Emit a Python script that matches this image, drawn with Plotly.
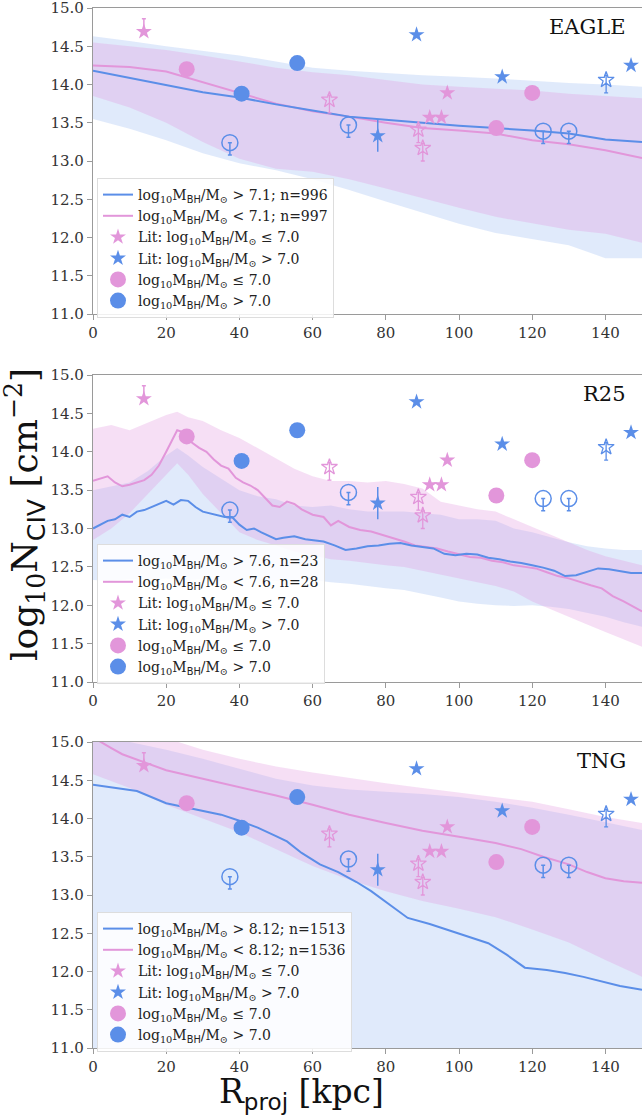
import plotly.graph_objects as go

BLUE = "#5b8ee8"
PINK = "#e296da"
BLUE_FILL = "rgba(100,149,237,0.2)"
PINK_FILL = "rgba(226,150,222,0.3)"
SERIF = "DejaVu Serif"
SANS = "DejaVu Sans"

# ---------------- observational / literature points (same in all panels) -------------
lit_low_x = [92.0, 95.2, 96.8]
lit_low_y = [13.57, 13.57, 13.89]
lit_low_err_x = [13.9]
lit_low_err_y = [14.69]
lit_low_err_up = [0.17]
lit_low_lim_x = [64.6, 88.9, 90.1]
lit_low_lim_y = [13.80, 13.41, 13.17]
lit_high_x = [88.4, 111.8, 147.0]
lit_high_y = [14.65, 14.10, 14.25]
lit_high_err_x = [77.8]
lit_high_err_y = [13.33]
lit_high_err = [0.21]
lit_high_lim_x = [140.2]
lit_high_lim_y = [14.06]
sim_low_x = [25.6, 110.2, 120.0]
sim_low_y = [14.20, 13.43, 13.89]
sim_high_x = [40.6, 55.8]
sim_high_y = [13.88, 14.28]
sim_high_lim_x = [37.4, 69.8, 123.0, 130.0]
sim_high_lim_y = [13.24, 13.47, 13.39, 13.39]

# ---------------- EAGLE ----------------
eagle_x = [0, 10, 20, 30, 40, 50, 60, 70, 80, 90, 100, 110, 120, 130, 140, 150]
eagle_hi_med = [14.18, 14.09, 13.99, 13.90, 13.83, 13.74, 13.66, 13.58, 13.54, 13.50, 13.46, 13.43, 13.40, 13.36, 13.28, 13.25]
eagle_lo_med = [14.25, 14.23, 14.17, 14.03, 13.88, 13.75, 13.65, 13.58, 13.50, 13.43, 13.40, 13.36, 13.27, 13.22, 13.14, 13.04]
eagle_hi_up = [14.63, 14.57, 14.50, 14.44, 14.38, 14.30, 14.22, 14.18, 14.15, 14.12, 14.10, 14.08, 14.05, 14.02, 14.00, 13.97]
eagle_hi_dn = [13.55, 13.42, 13.27, 13.10, 12.97, 12.88, 12.76, 12.62, 12.47, 12.32, 12.18, 12.06, 11.98, 11.90, 11.73, 11.73]
eagle_lo_up = [14.55, 14.50, 14.45, 14.38, 14.30, 14.22, 14.16, 14.12, 14.06, 14.00, 13.97, 13.95, 13.92, 13.88, 13.85, 13.82]
eagle_lo_dn = [13.85, 13.70, 13.50, 13.25, 13.03, 12.90, 12.86, 12.76, 12.64, 12.52, 12.39, 12.27, 12.18, 12.10, 12.05, 11.93]

# ---------------- R25 ----------------
r25_hi_x = [0, 2, 4, 6, 8, 10, 12, 14, 16, 18, 20, 22, 24, 26, 28, 30, 32, 34, 36, 38, 40, 42, 44, 46, 48, 50,
            52, 55, 58, 60, 63, 66, 69, 72, 75, 78, 81, 84, 87, 90, 93, 96, 99, 102, 105, 108, 111, 114, 117,
            120, 123, 126, 129, 132, 135, 138, 141, 144, 147, 150]
r25_hi_med = [13.00, 13.05, 13.10, 13.12, 13.18, 13.15, 13.22, 13.24, 13.28, 13.33, 13.36, 13.31, 13.37, 13.36,
              13.28, 13.22, 13.20, 13.17, 13.15, 13.15, 13.05, 12.98, 13.00, 12.95, 12.90, 12.86, 12.88, 12.90,
              12.86, 12.85, 12.83, 12.78, 12.72, 12.74, 12.77, 12.78, 12.80, 12.81, 12.78, 12.76, 12.74, 12.67,
              12.65, 12.67, 12.66, 12.62, 12.60, 12.57, 12.55, 12.52, 12.49, 12.45, 12.38, 12.39, 12.44, 12.48,
              12.47, 12.44, 12.42, 12.42]
r25_lo_x = [0, 2, 4, 6, 8, 10, 12, 14, 16, 18, 20, 22, 23, 25, 27, 29, 31, 33, 35, 37, 39, 41, 43, 45, 47, 49,
            51, 53, 55, 57, 60, 63, 65, 67, 70, 73, 76, 79, 82, 85, 88, 91, 94, 97, 100, 103, 106, 109, 112, 115,
            118, 121, 124, 127, 130, 133, 136, 139, 142, 145, 148, 150]
r25_lo_med = [13.62, 13.65, 13.68, 13.60, 13.55, 13.57, 13.60, 13.63, 13.70, 13.82, 14.00, 14.20, 14.28, 14.25,
              14.12, 14.05, 14.00, 13.90, 13.82, 13.78, 13.66, 13.60, 13.56, 13.50, 13.40, 13.30, 13.28, 13.35,
              13.32, 13.25, 13.18, 13.15, 13.04, 13.10, 13.02, 12.98, 12.96, 12.92, 12.88, 12.83, 12.78, 12.76,
              12.74, 12.70, 12.66, 12.63, 12.62, 12.58, 12.56, 12.52, 12.50, 12.48, 12.43, 12.38, 12.35, 12.30,
              12.26, 12.22, 12.12, 12.05, 11.97, 11.92]
r25_band_x = [0, 5, 10, 15, 20, 23, 26, 30, 35, 40, 45, 50, 55, 60, 65, 70, 75, 80, 85, 90, 95, 100, 105, 110,
              115, 120, 125, 130, 135, 140, 145, 150]
r25_lo_up = [14.30, 14.35, 14.28, 14.38, 14.48, 14.52, 14.45, 14.40, 14.28, 14.18, 14.05, 13.92, 13.78, 13.68,
             13.62, 13.62, 13.60, 13.62, 13.58, 13.52, 13.35, 13.30, 13.25, 13.22, 13.12, 13.02, 12.92, 12.82,
             12.72, 12.64, 12.58, 12.52]
r25_lo_dn = [12.85, 13.00, 13.20, 13.45, 13.70, 13.85, 13.70, 13.45, 13.20, 12.95, 12.85, 12.78, 12.70, 12.65,
             12.60, 12.58, 12.55, 12.52, 12.50, 12.45, 12.40, 12.35, 12.30, 12.25, 12.18, 12.05, 11.95, 11.85,
             11.75, 11.65, 11.55, 11.46]
r25_hi_up = [13.50, 13.55, 13.60, 13.75, 13.95, 14.05, 13.95, 13.80, 13.65, 13.50, 13.42, 13.38, 13.30, 13.28,
             13.30, 13.25, 13.22, 13.22, 13.22, 13.20, 13.18, 13.12, 13.12, 13.10, 13.00, 12.95, 12.88, 12.82,
             12.77, 12.74, 12.72, 12.72]
r25_hi_dn = [12.33, 12.32, 12.34, 12.33, 12.35, 12.34, 12.33, 12.34, 12.32, 12.33, 12.33, 12.32, 12.33, 12.33,
             12.30, 12.28, 12.25, 12.22, 12.20, 12.15, 12.10, 12.05, 12.02, 12.00, 11.99, 12.00, 11.98, 11.95,
             11.90, 11.85, 11.78, 11.72]

# ---------------- TNG ----------------
tng_hi_x = [0, 5, 12, 20, 25, 30, 35, 40, 45, 50, 53, 57, 62, 67, 72, 76, 81, 86, 92, 97, 103, 108, 113, 118,
            124, 129, 134, 139, 144, 150]
tng_hi_med = [14.44, 14.41, 14.36, 14.20, 14.15, 14.11, 14.05, 13.97, 13.88, 13.77, 13.70, 13.55, 13.40, 13.30,
              13.17, 13.05, 12.88, 12.70, 12.62, 12.54, 12.45, 12.37, 12.22, 12.05, 12.02, 11.98, 11.93, 11.87,
              11.81, 11.76]
tng_lo_x = [0, 2, 5, 8, 12, 20, 30, 40, 50, 60, 70, 80, 90, 100, 110, 117, 123, 130, 135, 140, 145, 150]
tng_lo_med = [15.06, 15.00, 14.92, 14.84, 14.77, 14.63, 14.52, 14.41, 14.30, 14.18, 14.05, 13.94, 13.84, 13.76,
              13.68, 13.60, 13.50, 13.40, 13.30, 13.22, 13.18, 13.16]
tng_band_x = [0, 10, 20, 30, 40, 50, 60, 70, 80, 90, 100, 110, 120, 130, 140, 150]
tng_lo_up = [15.40, 15.20, 15.05, 14.90, 14.78, 14.68, 14.60, 14.53, 14.46, 14.40, 14.34, 14.28, 14.22, 14.12, 14.02, 13.94]
tng_lo_dn = [14.58, 14.40, 14.18, 14.00, 13.82, 13.60, 13.38, 13.20, 13.05, 12.92, 12.82, 12.71, 12.55, 12.38, 12.15, 11.93]
tng_hi_up = [15.10, 15.00, 14.90, 14.78, 14.65, 14.52, 14.43, 14.38, 14.35, 14.32, 14.28, 14.22, 14.14, 14.05, 13.95, 13.85]
tng_hi_dn = [10.80, 10.80, 10.75, 10.70, 10.70, 10.75, 10.80, 10.80, 10.80, 10.80, 10.80, 10.80, 10.80, 10.80, 10.80, 10.80]

panel_names = ["EAGLE", "R25", "TNG"]
hi_labels = ["&gt; 7.1; n=996", "&gt; 7.6, n=23", "&gt; 8.12; n=1513"]
lo_labels = ["&lt; 7.1; n=997", "&lt; 7.6, n=28", "&lt; 8.12; n=1536"]
y_ticks = [11, 11.5, 12, 12.5, 13, 13.5, 14, 14.5, 15]
x_ticks = [0, 20, 40, 60, 80, 100, 120, 140]

MBH = "log<sub>10</sub>M<sub><span style='font-family:DejaVu Sans'>BH</span></sub>/M<sub>⊙</sub>"

panels = [
    dict(bx=eagle_x, hi_up=eagle_hi_up, hi_dn=eagle_hi_dn, lo_up=eagle_lo_up, lo_dn=eagle_lo_dn,
         hx=eagle_x, hm=eagle_hi_med, lx=eagle_x, lm=eagle_lo_med),
    dict(bx=r25_band_x, hi_up=r25_hi_up, hi_dn=r25_hi_dn, lo_up=r25_lo_up, lo_dn=r25_lo_dn,
         hx=r25_hi_x, hm=r25_hi_med, lx=r25_lo_x, lm=r25_lo_med),
    dict(bx=tng_band_x, hi_up=tng_hi_up, hi_dn=tng_hi_dn, lo_up=tng_lo_up, lo_dn=tng_lo_dn,
         hx=tng_hi_x, hm=tng_hi_med, lx=tng_lo_x, lm=tng_lo_med),
]

STAR = 12
fig = go.Figure()

for i, p in enumerate(panels):
    sfx = "" if i == 0 else str(i + 1)
    xa, ya = "x" + sfx, "y" + sfx
    leg = "legend" + sfx
    # bands
    fig.add_trace(go.Scatter(x=p["bx"] + p["bx"][::-1], y=p["hi_up"] + p["hi_dn"][::-1], fill="toself",
                             fillcolor=BLUE_FILL, line=dict(width=0), mode="lines", hoverinfo="skip",
                             showlegend=False, xaxis=xa, yaxis=ya))
    fig.add_trace(go.Scatter(x=p["bx"] + p["bx"][::-1], y=p["lo_up"] + p["lo_dn"][::-1], fill="toself",
                             fillcolor=PINK_FILL, line=dict(width=0), mode="lines", hoverinfo="skip",
                             showlegend=False, xaxis=xa, yaxis=ya))
    # medians
    fig.add_trace(go.Scatter(x=p["lx"], y=p["lm"], mode="lines", line=dict(color=PINK, width=2),
                             name=MBH + " " + lo_labels[i], legend=leg, legendrank=2, xaxis=xa, yaxis=ya))
    fig.add_trace(go.Scatter(x=p["hx"], y=p["hm"], mode="lines", line=dict(color=BLUE, width=2),
                             name=MBH + " " + hi_labels[i], legend=leg, legendrank=1, xaxis=xa, yaxis=ya))
    # literature stars
    fig.add_trace(go.Scatter(x=lit_low_x, y=lit_low_y, mode="markers",
                             marker=dict(symbol="star", size=STAR, color=PINK, line=dict(width=0)),
                             name="Lit: " + MBH + " ≤ 7.0", legend=leg, legendrank=3, xaxis=xa, yaxis=ya))
    fig.add_trace(go.Scatter(x=lit_low_err_x, y=lit_low_err_y, mode="markers",
                             marker=dict(symbol="star", size=STAR, color=PINK, line=dict(width=0)),
                             error_y=dict(type="data", symmetric=False, array=lit_low_err_up, arrayminus=[0],
                                          color=PINK, thickness=1.5, width=2),
                             showlegend=False, xaxis=xa, yaxis=ya))
    fig.add_trace(go.Scatter(x=lit_low_lim_x, y=lit_low_lim_y, mode="markers",
                             marker=dict(symbol="star-open", size=STAR, color=PINK, line=dict(width=1.3)),
                             error_y=dict(type="data", symmetric=False, array=[0.06, 0.06, 0.06],
                                          arrayminus=[0.17, 0.17, 0.17], color=PINK, thickness=1.3, width=2),
                             showlegend=False, xaxis=xa, yaxis=ya))
    fig.add_trace(go.Scatter(x=lit_high_x, y=lit_high_y, mode="markers",
                             marker=dict(symbol="star", size=STAR, color=BLUE, line=dict(width=0)),
                             name="Lit: " + MBH + " &gt; 7.0", legend=leg, legendrank=4, xaxis=xa, yaxis=ya))
    fig.add_trace(go.Scatter(x=lit_high_err_x, y=lit_high_err_y, mode="markers",
                             marker=dict(symbol="star", size=STAR, color=BLUE, line=dict(width=0)),
                             error_y=dict(type="data", array=lit_high_err, color=BLUE, thickness=1.5, width=0),
                             showlegend=False, xaxis=xa, yaxis=ya))
    fig.add_trace(go.Scatter(x=lit_high_lim_x, y=lit_high_lim_y, mode="markers",
                             marker=dict(symbol="star-open", size=STAR, color=BLUE, line=dict(width=1.3)),
                             error_y=dict(type="data", symmetric=False, array=[0.06], arrayminus=[0.17],
                                          color=BLUE, thickness=1.3, width=2),
                             showlegend=False, xaxis=xa, yaxis=ya))
    # this-work circles
    fig.add_trace(go.Scatter(x=sim_low_x, y=sim_low_y, mode="markers",
                             marker=dict(symbol="circle", size=16, color=PINK, line=dict(width=0)),
                             name=MBH + " ≤ 7.0", legend=leg, legendrank=5, xaxis=xa, yaxis=ya))
    fig.add_trace(go.Scatter(x=sim_high_x, y=sim_high_y, mode="markers",
                             marker=dict(symbol="circle", size=16, color=BLUE, line=dict(width=0)),
                             name=MBH + " &gt; 7.0", legend=leg, legendrank=6, xaxis=xa, yaxis=ya))
    fig.add_trace(go.Scatter(x=sim_high_lim_x, y=sim_high_lim_y, mode="markers",
                             marker=dict(symbol="circle-open", size=16, color=BLUE, line=dict(width=1.5)),
                             error_y=dict(type="data", symmetric=False, array=[0, 0, 0, 0],
                                          arrayminus=[0.16, 0.16, 0.16, 0.16], color=BLUE, thickness=1.5, width=2),
                             showlegend=False, xaxis=xa, yaxis=ya))

# geometry (pixels -> paper)
W, H = 642, 1117
ML, MR, MT, MB = 93, 0, 8, 69
PH = H - MT - MB
def py(px):
    return (H - MB - px) / PH
def pxx(px):
    return (px - ML) / (W - ML - MR)

doms = [(py(314), py(8)), (py(682), py(375)), (py(1048), py(742))]
leg_tops = [178, 544, 912]

axis_common = dict(showline=True, linecolor="#9a9a9a", linewidth=1.3, ticks="outside", tickcolor="#9a9a9a",
                   ticklen=5, tickwidth=1.2, showgrid=False, zeroline=False, ticklabeloverflow="allow",
                   tickfont=dict(family=SERIF, size=15, color="#333333"))
layout = dict(width=W, height=H, margin=dict(l=ML, r=MR, t=MT, b=MB), paper_bgcolor="white",
              plot_bgcolor="white", showlegend=True)
annotations = []
for i in range(3):
    sfx = "" if i == 0 else str(i + 1)
    layout["xaxis" + sfx] = dict(axis_common, range=[0, 150], tickvals=x_ticks,
                                 anchor="y" + sfx, mirror=True, domain=[0, 1])
    layout["yaxis" + sfx] = dict(axis_common, range=[11, 15], tickvals=y_ticks,
                                 tickformat=".1f", anchor="x" + sfx, domain=list(doms[i]))
    layout["legend" + sfx] = dict(x=pxx(97), y=py(leg_tops[i]), xanchor="left", yanchor="top",
                                  bgcolor="rgba(255,255,255,0.85)", bordercolor="#dddddd", borderwidth=1,
                                  font=dict(family=SERIF, size=14, color="#222222"), itemsizing="trace",
                                  traceorder="normal", tracegroupgap=0)
    annotations.append(dict(text=panel_names[i], xref="x" + sfx + " domain", yref="y" + sfx + " domain",
                            x=0.975, y=0.985, xanchor="right", yanchor="top", showarrow=False,
                            font=dict(family=SERIF, size=21, color="#111111")))

annotations.append(dict(text="log<sub>10</sub>N<sub><span style='font-family:DejaVu Sans'>CIV</span></sub> [cm<sup>−2</sup>]",
                        xref="paper", yref="paper", x=pxx(25), y=py(515), xanchor="center", yanchor="middle",
                        textangle=-90, showarrow=False, font=dict(family=SERIF, size=36, color="#111111")))
annotations.append(dict(text="R<sub><span style='font-family:DejaVu Sans'>proj</span></sub> [kpc]",
                        xref="paper", yref="paper", x=pxx(301), y=py(1116), xanchor="center", yanchor="bottom",
                        borderpad=0, showarrow=False, font=dict(family=SERIF, size=33, color="#111111")))
layout["annotations"] = annotations
fig.update_layout(**layout)

fig.write_html("out.html")
